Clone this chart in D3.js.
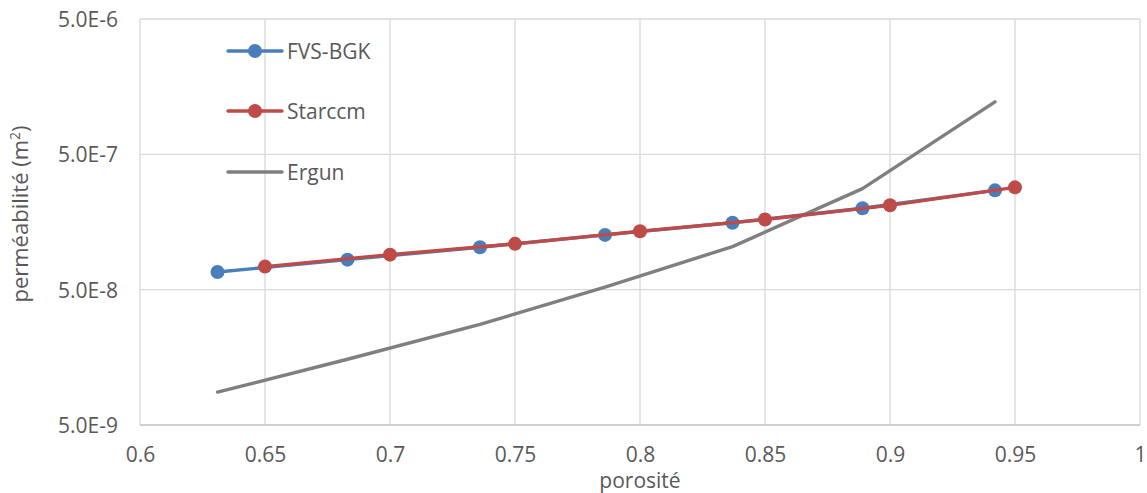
<!DOCTYPE html>
<html>
<head>
<meta charset="utf-8">
<script src="https://cdn.jsdelivr.net/npm/d3@7"></script>
<style>
  html, body { margin: 0; padding: 0; background: #fff; }
  svg text { font-family: "Open Sans", "Liberation Sans", sans-serif; fill: #595959; }
</style>
</head>
<body>
<svg id="chart" width="1147" height="493"></svg>
<script>
// Porosity values and permeability (m²) for each series
const fvsX = [0.631, 0.683, 0.736, 0.786, 0.837, 0.889, 0.942];
const fvsY = [6.75e-8, 8.33e-8, 1.03e-7, 1.27e-7, 1.56e-7, 2.00e-7, 2.71e-7];

const starX = [0.65, 0.70, 0.75, 0.80, 0.85, 0.90, 0.95];
const starY = [7.40e-8, 9.07e-8, 1.09e-7, 1.35e-7, 1.65e-7, 2.10e-7, 2.85e-7];

const ergunX = [0.631, 0.683, 0.736, 0.786, 0.837, 0.889, 0.942];
const ergunY = [8.75e-9, 1.53e-8, 2.77e-8, 5.23e-8, 1.04e-7, 2.79e-7, 1.22e-6];

const xTicks = [0.6, 0.65, 0.7, 0.75, 0.8, 0.85, 0.9, 0.95, 1];
const yTicks = [5e-9, 5e-8, 5e-7, 5e-6];

const seriesNames = ["FVS-BGK", "Starccm", "Ergun"];
const seriesColors = ["#4a7ebb", "#be4b48", "#7f7f7f"];

const svg = d3.select("#chart");
const margin = { left: 140, right: 7, top: 19, bottom: 68 };
const W = 1147, H = 493;

const x = d3.scaleLinear().domain([0.6, 1]).range([margin.left, W - margin.right]);
const y = d3.scaleLog().domain([5e-9, 5e-6]).range([H - margin.bottom, margin.top]);

// Gridlines
svg.append("g").selectAll("line").data(xTicks).join("line")
  .attr("x1", d => x(d)).attr("x2", d => x(d))
  .attr("y1", y(5e-6)).attr("y2", y(5e-9))
  .attr("stroke", "#d9d9d9").attr("stroke-width", 1.3);
svg.append("g").selectAll("line").data(yTicks).join("line")
  .attr("x1", x(0.6)).attr("x2", x(1))
  .attr("y1", d => y(d)).attr("y2", d => y(d))
  .attr("stroke", d => d === 5e-9 ? "#bfbfbf" : "#d9d9d9").attr("stroke-width", 1.3);

// Axes (labels only, lines drawn as gridlines)
const xAxis = d3.axisBottom(x).tickValues(xTicks).tickSize(0).tickFormat(d => String(+d.toFixed(2)));
const gx = svg.append("g").attr("transform", `translate(0,${y(5e-9)})`).call(xAxis);
gx.select(".domain").remove();
gx.selectAll("text").attr("font-size", 21).attr("y", 37).attr("dy", null);

const fmtE = d => {
  const e = Math.floor(Math.log10(d) + 1e-9);
  const m = d / Math.pow(10, e);
  return m.toFixed(1) + "E" + e;
};
const yAxis = d3.axisLeft(y).tickValues(yTicks).tickSize(0).tickFormat(fmtE);
const gy = svg.append("g").attr("transform", `translate(${x(0.6) - 22},0)`).call(yAxis);
gy.select(".domain").remove();
gy.selectAll("text").attr("font-size", 21).attr("x", 0).attr("dy", "0.36em");

// Axis titles
svg.append("text").attr("x", (x(0.6) + x(1)) / 2).attr("y", 488)
  .attr("text-anchor", "middle").attr("font-size", 21).text("porosité");
const yt = svg.append("text")
  .attr("transform", `translate(28,${(y(5e-9) + y(5e-6)) / 2 - 8}) rotate(-90)`)
  .attr("text-anchor", "middle").attr("font-size", 22);
yt.append("tspan").text("perméabilité (m");
yt.append("tspan").attr("font-size", 14).attr("dy", "-0.6em").text("2");
yt.append("tspan").attr("dy", "0.4em").text(")");

const line = d3.line().x(d => x(d[0])).y(d => y(d[1]));
const zip = (a, b) => a.map((v, i) => [v, b[i]]);

const series = [
  { pts: zip(fvsX, fvsY), color: seriesColors[0], markers: true },
  { pts: zip(starX, starY), color: seriesColors[1], markers: true },
  { pts: zip(ergunX, ergunY), color: seriesColors[2], markers: false }
];

// Ergun first, then FVS-BGK, then Starccm on top
[series[2], series[0], series[1]].forEach(s => {
  svg.append("path").datum(s.pts).attr("d", line)
    .attr("fill", "none").attr("stroke", s.color).attr("stroke-width", 3.4)
    .attr("stroke-linejoin", "round").attr("stroke-linecap", "round");
  if (s.markers) {
    svg.append("g").selectAll("circle").data(s.pts).join("circle")
      .attr("cx", d => x(d[0])).attr("cy", d => y(d[1])).attr("r", 7)
      .attr("fill", s.color);
  }
});

// Legend
const legY = [51, 111, 172];
seriesNames.forEach((name, i) => {
  const g = svg.append("g").attr("transform", `translate(228,${legY[i]})`);
  g.append("line").attr("x1", 0).attr("x2", 54).attr("y1", 0).attr("y2", 0)
    .attr("stroke", seriesColors[i]).attr("stroke-width", 3.4).attr("stroke-linecap", "round");
  if (i < 2) g.append("circle").attr("cx", 27).attr("cy", 0).attr("r", 7).attr("fill", seriesColors[i]);
  g.append("text").attr("x", 59).attr("y", 0).attr("dy", "0.36em").attr("font-size", 21).text(name);
});
</script>
</body>
</html>
